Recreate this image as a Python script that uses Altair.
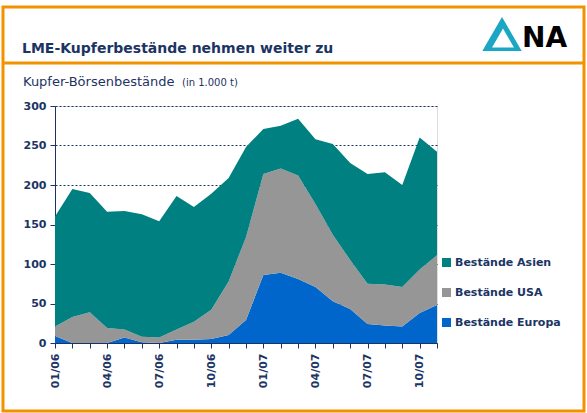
import altair as alt
import pandas as pd

months = ["01/06", "02/06", "03/06", "04/06", "05/06", "06/06", "07/06", "08/06",
          "09/06", "10/06", "11/06", "12/06", "01/07", "02/07", "03/07", "04/07",
          "05/07", "06/07", "07/07", "08/07", "09/07", "10/07", "11/07"]
shown_labels = ["01/06", "04/06", "07/06", "10/06", "01/07", "04/07", "07/07", "10/07"]

europa = [9, 0, 0, 0, 7, 1, 0, 4, 4, 5, 10, 29, 86, 89, 81, 71, 53, 43, 24, 22, 21, 38, 48]
usa = [12, 33, 39, 19, 10, 7, 7, 13, 23, 37, 68, 105, 128, 132, 131, 105, 84, 62, 51, 52, 50, 55, 63]
asien = [139, 162, 151, 147, 150, 155, 147, 169, 145, 147, 131, 114, 57, 54, 72, 82, 115, 123, 139, 142, 129, 167, 131]

series_names = ["Bestände Asien", "Bestände USA", "Bestände Europa"]
series_colors = ["#008080", "#969696", "#0066CC"]

title_text = "LME-Kupferbestände nehmen weiter zu"
subtitle_text = "Kupfer-Börsenbestände"
unit_text = "(in 1.000 t)"

NAVY = "#1B3464"
ORANGE = "#F39200"
FONT = "DejaVu Sans"

rows = []
for i, m in enumerate(months):
    rows.append({"month": m, "series": "Bestände Europa", "value": europa[i], "ord": 0})
    rows.append({"month": m, "series": "Bestände USA", "value": usa[i], "ord": 1})
    rows.append({"month": m, "series": "Bestände Asien", "value": asien[i], "ord": 2})
df = pd.DataFrame(rows)

label_list = ",".join("'" + s + "'" for s in shown_labels)

area = alt.Chart(df).mark_area(opacity=1, interpolate="linear").encode(
    x=alt.X("month:O", sort=months,
            scale=alt.Scale(type="point", padding=0),
            axis=alt.Axis(title=None, labelAngle=270, labelFontSize=11, labelFontWeight="bold",
                          labelFont=FONT, labelColor=NAVY, domainColor=NAVY, tickColor=NAVY,
                          tickSize=5, labelPadding=5, grid=False,
                          labelExpr="indexof([" + label_list + "], datum.value) >= 0 ? datum.value : ''")),
    y=alt.Y("value:Q", stack="zero",
            scale=alt.Scale(domain=[0, 300], nice=False),
            axis=alt.Axis(title=None, values=[0, 50, 100, 150, 200, 250, 300], labelFontSize=11,
                          labelFontWeight="bold", labelFont=FONT, labelColor=NAVY,
                          domainColor=NAVY, tickColor=NAVY, tickSize=5, labelPadding=4,
                          grid=True, gridColor=NAVY, gridDash=[2, 2], gridWidth=1)),
    color=alt.Color("series:N",
                    scale=alt.Scale(domain=series_names, range=series_colors),
                    legend=alt.Legend(title=None, orient="none", legendX=386, legendY=151,
                                      symbolType="square", symbolSize=81, symbolStrokeWidth=0,
                                      labelFontSize=11, labelFontWeight="bold", labelFont=FONT,
                                      labelColor=NAVY, rowPadding=18, labelOffset=3)),
    order=alt.Order("ord:Q", sort="ascending"),
)

dummy = pd.DataFrame({"t": [title_text]})

border = alt.Chart(dummy).mark_rect(fill=None, stroke=ORANGE, strokeWidth=3).encode(
    x=alt.value(-52), x2=alt.value(529), y=alt.value(-99), y2=alt.value(305))
sep = alt.Chart(dummy).mark_rule(color=ORANGE, strokeWidth=3).encode(
    x=alt.value(-52), x2=alt.value(529), y=alt.value(-43))
title = alt.Chart(pd.DataFrame({"t": [title_text]})).mark_text(
    align="left", baseline="alphabetic", font=FONT, fontSize=14, fontWeight="bold", color=NAVY
).encode(x=alt.value(-33), y=alt.value(-53), text="t:N")
subtitle = alt.Chart(pd.DataFrame({"t": [subtitle_text]})).mark_text(
    align="left", baseline="alphabetic", font=FONT, fontSize=13, color=NAVY
).encode(x=alt.value(-32), y=alt.value(-20), text="t:N")
unit = alt.Chart(pd.DataFrame({"t": [unit_text]})).mark_text(
    align="left", baseline="alphabetic", font=FONT, fontSize=10, color=NAVY
).encode(x=alt.value(127), y=alt.value(-20), text="t:N")
logo_tri = alt.Chart(dummy).mark_point(shape="triangle-up", filled=True, color="#1BA6C4", opacity=1,
                                       size=1550).encode(x=alt.value(447), y=alt.value(-72))
logo_in = alt.Chart(dummy).mark_point(shape="triangle-up", filled=True, color="white", opacity=1,
                                      size=480).encode(x=alt.value(448), y=alt.value(-68))
logo_na = alt.Chart(pd.DataFrame({"t": ["NA"]})).mark_text(
    align="left", baseline="alphabetic", font=FONT, fontSize=28, fontWeight="bold",
    color="black").encode(x=alt.value(467), y=alt.value(-59), text="t:N")

chart = alt.layer(area, border, sep, title, subtitle, unit, logo_tri, logo_in, logo_na).properties(
    width=382, height=237,
    padding={"left": 55, "top": 106, "right": 150, "bottom": 70},
    autosize=alt.AutoSizeParams(type="none"),
).configure_view(stroke=None).configure(background="white")

chart.save("out.html", embed_options={"renderer": "svg", "actions": False})
